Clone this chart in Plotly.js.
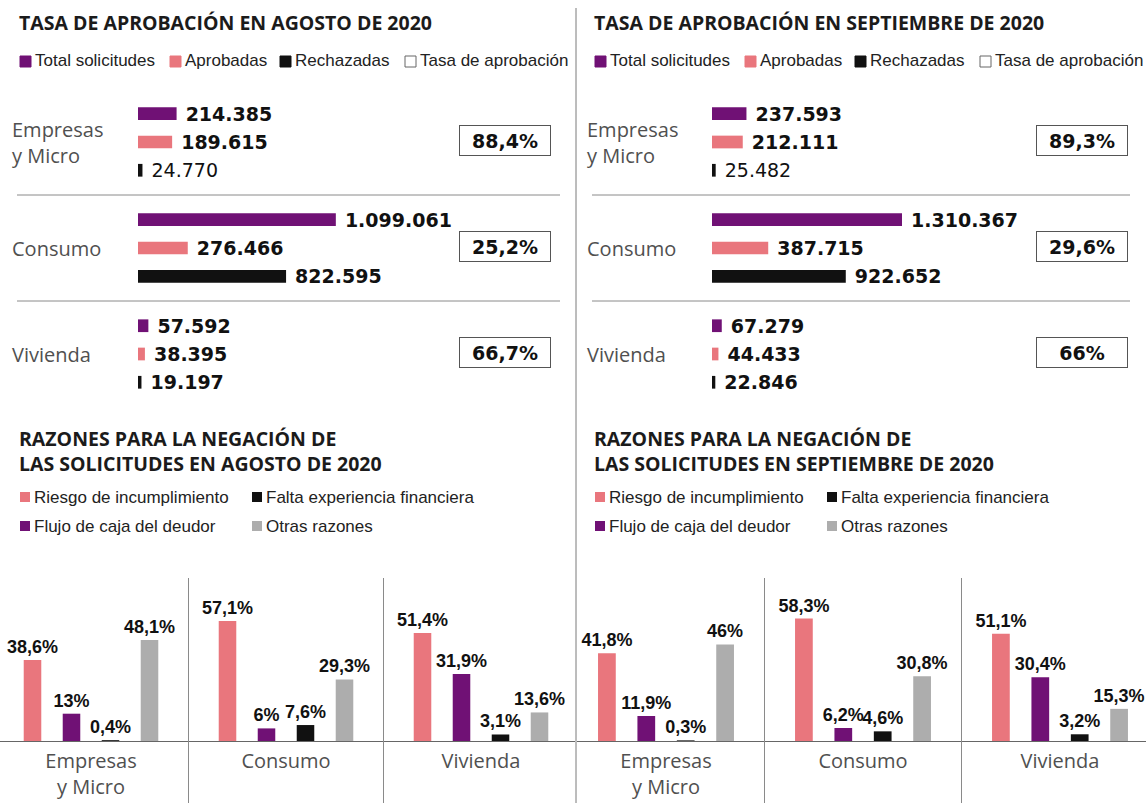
<!DOCTYPE html>
<html><head><meta charset="utf-8">
<script src="https://cdn.plot.ly/plotly-3.0.1.min.js"></script>
<style>html,body{margin:0;padding:0;background:#fff}#chart{width:1146px;height:803px}</style>
</head><body><div id="chart"></div>
<script>
// ---------- DATA ----------
const categories = ['Empresas y Micro', 'Consumo', 'Vivienda'];
const categoryLabels = ['Empresas<br>y Micro', 'Consumo', 'Vivienda'];
const panelTitlesTop = ['TASA DE APROBACIÓN EN AGOSTO DE 2020', 'TASA DE APROBACIÓN EN SEPTIEMBRE DE 2020'];
const panelTitlesBottom = ['RAZONES PARA LA NEGACIÓN DE<br>LAS SOLICITUDES EN AGOSTO DE 2020', 'RAZONES PARA LA NEGACIÓN DE<br>LAS SOLICITUDES EN SEPTIEMBRE DE 2020'];
const topSeries = ['Total solicitudes', 'Aprobadas', 'Rechazadas', 'Tasa de aprobación'];
const totalAgo = [214385, 1099061, 57592];
const aprobAgo = [189615, 276466, 38395];
const rechAgo = [24770, 822595, 19197];
const tasaAgo = [88.4, 25.2, 66.7];
const totalSep = [237593, 1310367, 67279];
const aprobSep = [212111, 387715, 44433];
const rechSep = [25482, 922652, 22846];
const tasaSep = [89.3, 29.6, 66];
const razonesSeries = ['Riesgo de incumplimiento', 'Flujo de caja del deudor', 'Falta experiencia financiera', 'Otras razones'];
const riesgoAgo = [38.6, 57.1, 51.4];
const flujoAgo = [13, 6, 31.9];
const faltaAgo = [0.4, 7.6, 3.1];
const otrasAgo = [48.1, 29.3, 13.6];
const riesgoSep = [41.8, 58.3, 51.1];
const flujoSep = [11.9, 6.2, 30.4];
const faltaSep = [0.3, 4.6, 3.2];
const otrasSep = [46, 30.8, 15.3];

// ---------- STYLE ----------
const W = 1146, H = 803;
const PX = v => v / W;
const PY = v => 1 - v / H;
const C_PURPLE = '#701175', C_PINK = '#e9767d', C_BLACK = '#111111', C_GRAY = '#adadad';
const F_TITLE = '"Open Sans", "Noto Sans", sans-serif';
const F_NARROW = '"Liberation Sans", Arial, sans-serif';
const F_VAL = '"DejaVu Sans", sans-serif';
const F_CAT = '"Open Sans", "Noto Sans", sans-serif';

const fmtInt = v => String(v).replace(/\B(?=(\d{3})+(?!\d))/g, '.');
const fmtPct = v => (Number.isInteger(v) ? String(v) : v.toFixed(1).replace('.', ',')) + '%';
const regularLabel = [true, false, false]; // small Empresas 'Rechazadas' label drawn in regular weight

function hbar(vals, name, color, xa, ya, plainFlags) {
  return {
    type: 'bar', orientation: 'h', y: categories, x: vals, name: name,
    marker: {color: color}, xaxis: xa, yaxis: ya, showlegend: false,
    text: vals.map((v, i) => '\u00a0' + ((plainFlags && plainFlags[i]) ? fmtInt(v) : '<b>' + fmtInt(v) + '</b>')),
    textposition: 'outside', cliponaxis: false, constraintext: 'none',
    textfont: {family: F_VAL, size: 19, color: '#111'}, hoverinfo: 'x+name'
  };
}
function vbar(vals, name, color, xa, ya) {
  return {
    type: 'bar', x: categories, y: vals, name: name,
    marker: {color: color}, xaxis: xa, yaxis: ya, showlegend: false,
    text: vals.map(v => '<b>' + fmtPct(v) + '</b>'),
    textposition: 'outside', cliponaxis: false, constraintext: 'none',
    textfont: {family: F_NARROW, size: 18, color: '#111'}, hoverinfo: 'y+name'
  };
}

const data = [
  hbar(totalAgo, topSeries[0], C_PURPLE, 'x', 'y'),
  hbar(aprobAgo, topSeries[1], C_PINK, 'x', 'y'),
  hbar(rechAgo, topSeries[2], C_BLACK, 'x', 'y', regularLabel),
  hbar(totalSep, topSeries[0], C_PURPLE, 'x2', 'y2'),
  hbar(aprobSep, topSeries[1], C_PINK, 'x2', 'y2'),
  hbar(rechSep, topSeries[2], C_BLACK, 'x2', 'y2', regularLabel),
  vbar(riesgoAgo, razonesSeries[0], C_PINK, 'x3', 'y3'),
  vbar(flujoAgo, razonesSeries[1], C_PURPLE, 'x3', 'y3'),
  vbar(faltaAgo, razonesSeries[2], C_BLACK, 'x3', 'y3'),
  vbar(otrasAgo, razonesSeries[3], C_GRAY, 'x3', 'y3'),
  vbar(riesgoSep, razonesSeries[0], C_PINK, 'x4', 'y4'),
  vbar(flujoSep, razonesSeries[1], C_PURPLE, 'x4', 'y4'),
  vbar(faltaSep, razonesSeries[2], C_BLACK, 'x4', 'y4'),
  vbar(otrasSep, razonesSeries[3], C_GRAY, 'x4', 'y4')
];

const hidden = {visible: false, fixedrange: true};
const topY = {type: 'category', categoryarray: categories, autorange: 'reversed', domain: [PY(407), PY(89)], visible: false, fixedrange: true};
const botX = {
  type: 'category', categoryarray: categories, tickvals: categories, ticktext: categoryLabels,
  tickfont: {family: F_CAT, size: 20, color: '#505050'}, ticks: '', showgrid: false, zeroline: false,
  showline: true, linecolor: '#666', linewidth: 1, fixedrange: true, ticklabelstandoff: 2
};

const layout = {
  width: W, height: H, margin: {l: 0, r: 0, t: 0, b: 0},
  paper_bgcolor: '#fff', plot_bgcolor: 'rgba(0,0,0,0)',
  barmode: 'group', bargap: 0.2, bargroupgap: 0.55,
  showlegend: false,
  xaxis: Object.assign({domain: [PX(138), PX(560)], range: [0, 422 / 1.80e-4], anchor: 'y'}, hidden),
  yaxis: Object.assign({anchor: 'x'}, topY),
  xaxis2: Object.assign({domain: [PX(712), PX(1130)], range: [0, 418 / 1.45e-4], anchor: 'y2'}, hidden),
  yaxis2: Object.assign({anchor: 'x2'}, topY),
  xaxis3: Object.assign({domain: [0, PX(575)], range: [-91 / 195, -91 / 195 + 575 / 195], anchor: 'y3'}, botX),
  yaxis3: {domain: [PY(741), PY(580)], range: [0, 161 / 2.1], visible: false, fixedrange: true, anchor: 'x3'},
  xaxis4: Object.assign({domain: [PX(577), 1], range: [-89 / 197, -89 / 197 + 569 / 197], anchor: 'y4'}, botX),
  yaxis4: {domain: [PY(741), PY(580)], range: [0, 161 / 2.1], visible: false, fixedrange: true, anchor: 'x4'},
  shapes: [],
  annotations: []
};

const S = layout.shapes, A = layout.annotations;
// central divider
S.push({type: 'line', xref: 'paper', yref: 'paper', x0: PX(576), x1: PX(576), y0: 0, y1: PY(8), line: {color: '#7a7a7a', width: 1}});

[0, 1].forEach(p => {
  const off = p * 575;
  const ya = p ? 'y2' : 'y';
  const xb = p ? 'x4' : 'x3';
  const tasa = p ? tasaSep : tasaAgo;
  // titles
  A.push({xref: 'paper', yref: 'paper', x: PX(17 + off), y: PY(22), xanchor: 'left', yanchor: 'middle', showarrow: false,
    text: '<b>' + panelTitlesTop[p] + '</b>', font: {family: F_TITLE, size: 19.5, color: '#1b1b1b'}});
  A.push({xref: 'paper', yref: 'paper', x: PX(17 + off), y: PY(451), xanchor: 'left', yanchor: 'middle', showarrow: false, align: 'left',
    text: '<b>' + panelTitlesBottom[p] + '</b>', font: {family: F_TITLE, size: 19.5, color: '#1b1b1b'}});
  // top legend
  const legX = [20, 170, 280, 405];
  const legCol = [C_PURPLE, C_PINK, C_BLACK, '#ffffff'];
  topSeries.forEach((s, i) => {
    S.push({type: 'rect', xref: 'paper', yref: 'paper', x0: PX(legX[i] + off), x1: PX(legX[i] + off + 11), y0: PY(67), y1: PY(56),
      fillcolor: legCol[i], line: {color: i === 3 ? '#666' : legCol[i], width: 1}});
    A.push({xref: 'paper', yref: 'paper', x: PX(legX[i] + off + 13), y: PY(61), xanchor: 'left', yanchor: 'middle', showarrow: false,
      text: s, font: {family: F_NARROW, size: 17, color: '#222'}});
  });
  // bottom legend (Riesgo, Falta / Flujo, Otras)
  const bl = [[0, 20, 497, C_PINK], [2, 252, 497, C_BLACK], [1, 20, 526, C_PURPLE], [3, 252, 526, C_GRAY]];
  bl.forEach(([si, x, y, c]) => {
    S.push({type: 'rect', xref: 'paper', yref: 'paper', x0: PX(x + off), x1: PX(x + off + 10), y0: PY(y + 5), y1: PY(y - 5),
      fillcolor: c, line: {width: 0}});
    A.push({xref: 'paper', yref: 'paper', x: PX(x + off + 12), y: PY(y), xanchor: 'left', yanchor: 'middle', showarrow: false,
      text: razonesSeries[si], font: {family: F_NARROW, size: 17, color: '#222'}});
  });
  // top category labels + approval boxes
  categories.forEach((c, i) => {
    A.push({xref: 'paper', yref: ya, x: PX(10 + off), y: c, xanchor: 'left', yanchor: 'middle', align: 'left', showarrow: false,
      text: categoryLabels[i], font: {family: F_CAT, size: 20, color: '#505050'}});
    A.push({xref: 'paper', yref: ya, x: PX((p ? 1082 : 505)), y: c, yshift: 2, xanchor: 'center', yanchor: 'middle', showarrow: false,
      text: '<b>' + fmtPct(tasa[i]) + '</b>', font: {family: F_VAL, size: 19, color: '#111'},
      bordercolor: '#555', borderwidth: 1, borderpad: 2, width: 86, height: 25, bgcolor: '#fff'});
  });
  // horizontal separators (top)
  [0.5, 1.5].forEach(v => {
    S.push({type: 'line', xref: 'paper', yref: ya, x0: PX(off + 17), x1: PX(off + (p ? 555 : 560)), y0: v, y1: v,
      line: {color: '#8a8a8a', width: 1}});
  });
  // vertical separators (bottom)
  [0.5, 1.5].forEach(v => {
    S.push({type: 'line', xref: xb, yref: 'paper', x0: v, x1: v, y0: 0, y1: PY(578), line: {color: '#8a8a8a', width: 1}});
  });
});

Plotly.newPlot('chart', data, layout, {staticPlot: true, displayModeBar: false});
</script>
</body></html>
